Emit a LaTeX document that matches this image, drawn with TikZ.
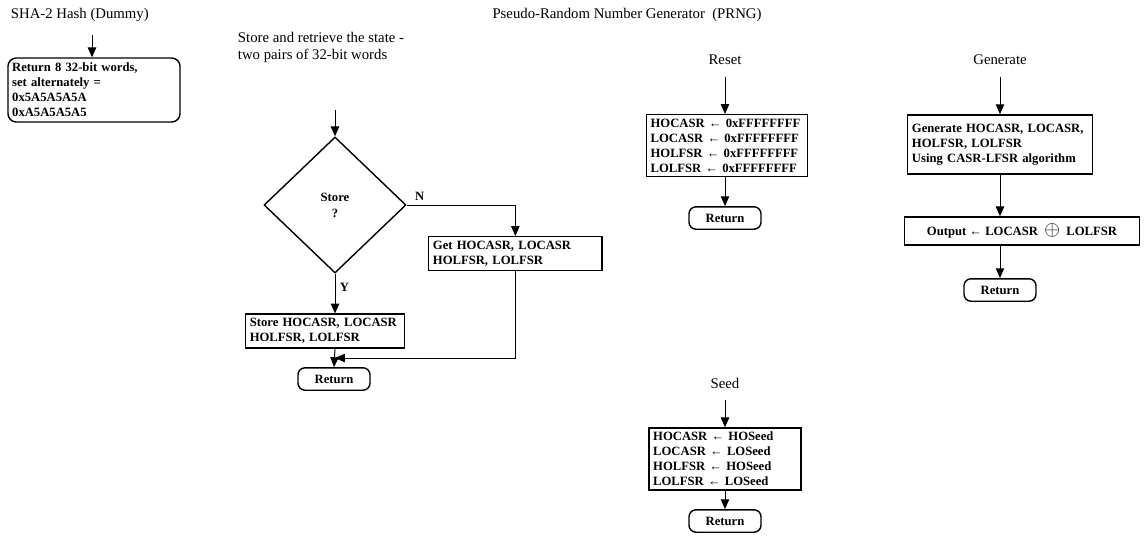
\documentclass[tikz,border=0pt]{standalone}
\usepackage{fontspec}
\setmainfont{Liberation Serif}
\usetikzlibrary{arrows.meta,shapes.geometric}

\begin{document}
\begin{tikzpicture}[x=0.025cm,y=-0.025cm,
  flow/.style={-{Triangle[length=7pt,width=6pt]},line width=0.7pt},
  title/.style={font=\fontsize{10.5}{12.5}\selectfont},
  box/.style={draw,line width=1pt,align=left,inner sep=3pt,font=\bfseries\fontsize{9}{10.6}\selectfont},
  retbox/.style={box,rounded corners=5pt,align=center,minimum width=1.8cm,minimum height=0.56cm},
  decision/.style={diamond,draw,line width=1pt,inner sep=0pt,minimum width=3.55cm,minimum height=3.4cm,align=center,font=\bfseries\fontsize{9}{11.5}\selectfont}]
  \useasboundingbox (0,0) rectangle (1144,555);

  % SHA-2 dummy hash
  \node[title,anchor=west] (shat) at (6,15) {SHA-2 Hash (Dummy)};
  \coordinate (hin) at (92,35);
  \node[box,rounded corners=6pt,text width=4.09cm,minimum height=1.6cm] (hash) at (94,90)
    {Return 8 32-bit words,\\set alternately =\\0x5A5A5A5A\\0xA5A5A5A5};
  \draw[flow] (hin) -- (hash.north -| hin);

  \node[title] (prng) at (627,15) {Pseudo-Random Number Generator\ \ (PRNG)};

  % store / retrieve state
  \node[title,anchor=north west,align=left] (cap) at (233,27) {Store and retrieve the state -\\two pairs of 32-bit words};
  \coordinate (sin) at (335,110);
  \node[decision] (store) at (335,205) {Store\\?};
  \draw[flow] (sin) -- (store.north);
  \node[box,text width=4.12cm,minimum height=0.83cm,anchor=west] (getb) at (428,253.5)
    {Get HOCASR, LOCASR\\HOLFSR, LOLFSR};
  \node[box,text width=3.76cm,minimum height=0.75cm] (storeb) at (325,331)
    {Store HOCASR, LOCASR\\HOLFSR, LOLFSR};
  \node[retbox] (ret1) at (334,379) {Return};
  \coordinate (join) at (335,358);
  \draw[flow] (store.east) -| (getb.north) node[pos=0.06,above,box,draw=none] {N};
  \draw[flow] (store.south) -- (store.south |- storeb.north) node[pos=0.35,right,box,draw=none] {Y};
  \draw[flow] (store.south |- storeb.south) -- (ret1.north);
  \draw[flow] (getb.south) |- (join);

  % reset
  \node[title] (reset) at (725,60) {Reset};
  \node[box,text width=3.82cm,minimum height=1.53cm] (rbox) at (727,145.5)
    {HOCASR ← 0xFFFFFFFF\\LOCASR ← 0xFFFFFFFF\\HOLFSR ← 0xFFFFFFFF\\LOLFSR ← 0xFFFFFFFF};
  \node[retbox] (ret2) at (725,218) {Return};
  \draw[flow] ([yshift=-5pt]reset.south) -- (rbox.north -| reset.south);
  \draw[flow] (rbox.south -| reset.south) -- (ret2.north);

  % generate
  \node[title] (gen) at (1000,60) {Generate};
  \node[box,text width=4.4cm,minimum height=1.48cm] (gbox) at (1000,144.5)
    {Generate HOCASR, LOCASR,\\HOLFSR, LOLFSR\\Using CASR-LFSR algorithm};
  \node[box,minimum width=5.88cm,minimum height=0.7cm] (outb) at (1022,231)
    {Output ← LOCASR\ \ {\Large$\oplus$}\ \ LOLFSR};
  \node[retbox] (ret3) at (1000,290) {Return};
  \draw[flow] ([yshift=-5pt]gen.south) -- (gbox.north);
  \draw[flow] (gbox.south) -- (gbox.south |- outb.north);
  \draw[flow] (gbox.south |- outb.south) -- (ret3.north);

  % seed
  \node[title] (seed) at (725,383) {Seed};
  \node[box,text width=3.59cm,minimum height=1.55cm] (sbox) at (725,459)
    {HOCASR ← HOSeed\\LOCASR ← LOSeed\\HOLFSR ← HOSeed\\LOLFSR ← LOSeed};
  \node[retbox] (ret4) at (725,521) {Return};
  \draw[flow] ([yshift=-5pt]seed.south) -- (sbox.north);
  \draw[flow] (sbox.south) -- (ret4.north);
\end{tikzpicture}
\end{document}
